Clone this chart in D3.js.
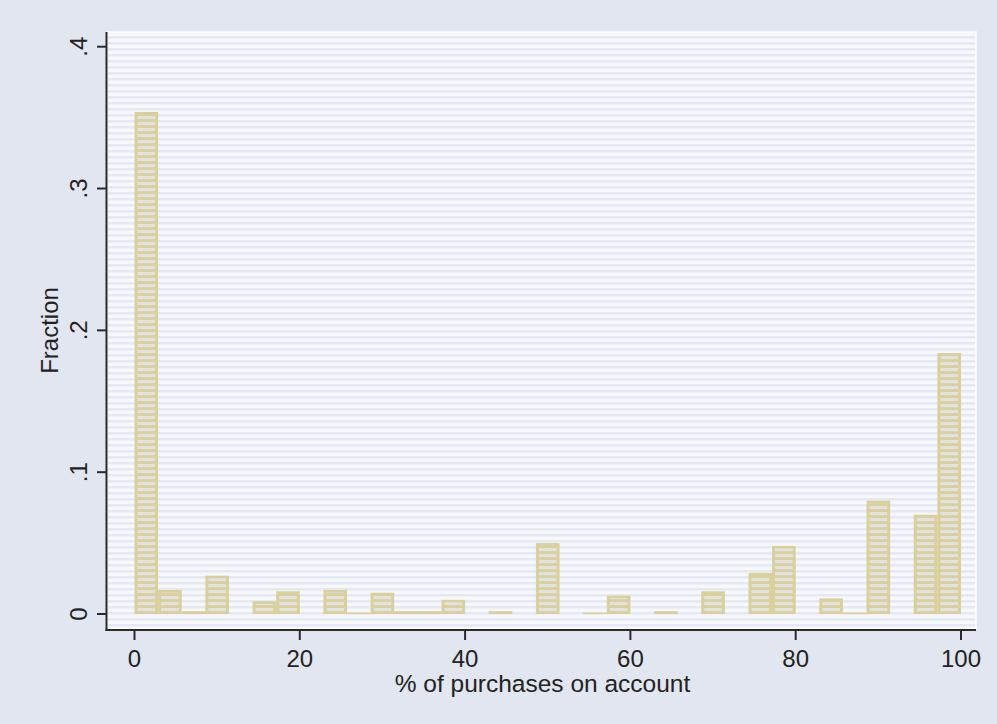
<!DOCTYPE html>
<html>
<head>
<meta charset="utf-8">
<script src="https://cdn.jsdelivr.net/npm/d3@7"></script>
<style>
  html, body { margin: 0; padding: 0; background: #e2e6f0; }
  svg { display: block; }
  text { font-family: "Liberation Sans", Arial, sans-serif; fill: #222222; }
</style>
</head>
<body>
<svg id="chart" width="997" height="724"></svg>
<script>
// Histogram of the share of purchases made on account: 35 equal-width bins over 0–100
const binCount = 35;
const binWidth = 100 / binCount;
const fractions = [
  0.354, 0.017, 0.002, 0.027, 0,     0.009, 0.016, 0,     0.017, 0.001,
  0.015, 0.002, 0.002, 0.010, 0,     0.002, 0,     0.050, 0,     0.001,
  0.013, 0,     0.002, 0,     0.016, 0,     0.029, 0.048, 0,     0.011,
  0.001, 0.080, 0,     0.070, 0.184
];
const xTicks = [0, 20, 40, 60, 80, 100];
const yTicks = [0, 0.1, 0.2, 0.3, 0.4];
const yTickLabels = ["0", ".1", ".2", ".3", ".4"];
const xTitle = "% of purchases on account";
const yTitle = "Fraction";

const bins = fractions.map((f, i) => ({ x0: i * binWidth, x1: (i + 1) * binWidth, value: f }));

const svg = d3.select("#chart");
const W = 997, H = 724;
const plot = { left: 107, right: 976, top: 32, bottom: 629 };

const x = d3.scaleLinear().domain([0, 100]).range([134.5, 961]);
const y = d3.scaleLinear().domain([0, 0.4]).range([614, 46.7]);

const defs = svg.append("defs");
// striped plot-region background
const bg = defs.append("pattern").attr("id", "bgStripe")
  .attr("patternUnits", "userSpaceOnUse").attr("width", 8).attr("height", 6);
bg.append("rect").attr("width", 8).attr("height", 6).attr("fill", "#f6f8fc");
bg.append("rect").attr("y", 0).attr("width", 8).attr("height", 2.5).attr("fill", "#e4e9f3");

// striped bar fill
const bp = defs.append("pattern").attr("id", "barStripe")
  .attr("patternUnits", "userSpaceOnUse").attr("width", 8).attr("height", 6);
bp.append("rect").attr("width", 8).attr("height", 6).attr("fill", "#d9d09b");
bp.append("rect").attr("y", 2).attr("width", 8).attr("height", 3.2).attr("fill", "#e2e3e1");

// outer background
svg.append("rect").attr("width", W).attr("height", H).attr("fill", "#e2e6f0");

// plot region
svg.append("rect")
  .attr("x", plot.left).attr("y", plot.top)
  .attr("width", plot.right - plot.left).attr("height", plot.bottom - plot.top)
  .attr("fill", "url(#bgStripe)");
svg.append("rect")
  .attr("x", plot.left).attr("y", plot.top)
  .attr("width", plot.right - plot.left).attr("height", plot.bottom - plot.top)
  .attr("fill", "none").attr("stroke", "#ffffff").attr("stroke-width", 1.5);

// bars
const drawn = bins.filter(d => d.value > 0);
const bars = svg.append("g").selectAll("g").data(drawn).join("g");
bars.append("rect")
  .attr("x", d => x(d.x0))
  .attr("y", d => y(d.value))
  .attr("width", d => x(d.x1) - x(d.x0))
  .attr("height", d => Math.max(1.5, y(0) - y(d.value)))
  .attr("fill", "#d9d09b");
bars.filter(d => y(0) - y(d.value) > 7).append("rect")
  .attr("x", d => x(d.x0) + 3)
  .attr("y", d => y(d.value) + 2.5)
  .attr("width", d => x(d.x1) - x(d.x0) - 6)
  .attr("height", d => y(0) - y(d.value) - 4)
  .attr("fill", "url(#barStripe)");

// axes lines
const axisColor = "#2a2a2a";
svg.append("line").attr("x1", plot.left - 0.5).attr("x2", plot.left - 0.5)
  .attr("y1", plot.top).attr("y2", plot.bottom + 2)
  .attr("stroke", axisColor).attr("stroke-width", 2);
svg.append("line").attr("x1", plot.left - 1.5).attr("x2", plot.right)
  .attr("y1", plot.bottom + 1).attr("y2", plot.bottom + 1)
  .attr("stroke", axisColor).attr("stroke-width", 2);

// y ticks and labels
const yg = svg.append("g");
yg.selectAll("line").data(yTicks).join("line")
  .attr("x1", plot.left - 10).attr("x2", plot.left - 1)
  .attr("y1", d => y(d)).attr("y2", d => y(d))
  .attr("stroke", axisColor).attr("stroke-width", 2);
yg.selectAll("text").data(yTicks).join("text")
  .attr("transform", d => `translate(87,${y(d)}) rotate(-90)`)
  .attr("text-anchor", "middle")
  .attr("font-size", 24)
  .text((d, i) => yTickLabels[i]);

// x ticks and labels
const xg = svg.append("g");
xg.selectAll("line").data(xTicks).join("line")
  .attr("x1", d => x(d)).attr("x2", d => x(d))
  .attr("y1", plot.bottom + 2).attr("y2", plot.bottom + 11)
  .attr("stroke", axisColor).attr("stroke-width", 2);
xg.selectAll("text").data(xTicks).join("text")
  .attr("x", d => x(d)).attr("y", 667)
  .attr("text-anchor", "middle")
  .attr("font-size", 24)
  .text(d => d);

// axis titles
svg.append("text")
  .attr("x", (plot.left + plot.right) / 2 + 1).attr("y", 692)
  .attr("text-anchor", "middle").attr("font-size", 24.5)
  .text(xTitle);
svg.append("text")
  .attr("transform", `translate(58,${(plot.top + plot.bottom) / 2}) rotate(-90)`)
  .attr("text-anchor", "middle").attr("font-size", 24)
  .text(yTitle);
</script>
</body>
</html>
